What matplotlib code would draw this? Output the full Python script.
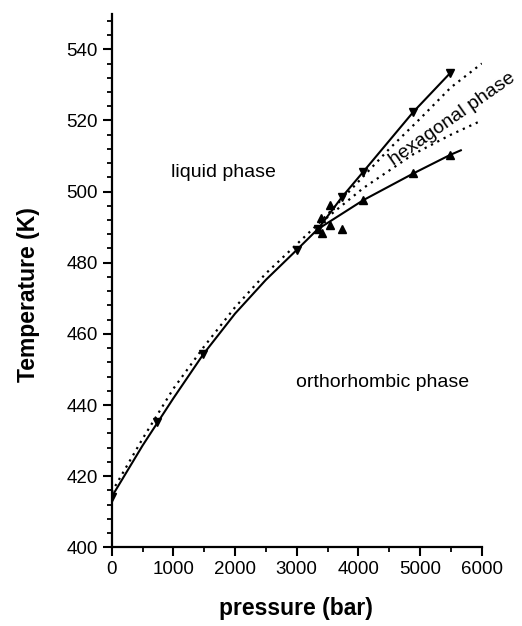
import matplotlib
matplotlib.use("Agg")
import matplotlib.pyplot as plt
from matplotlib.ticker import MultipleLocator

plt.rcParams['font.family'] = ['Liberation Sans', 'DejaVu Sans']

# melting line data (liquid boundary), down triangles
liq_P = [0, 730, 1486, 3000, 3350, 3730, 4080, 4890, 5486]
liq_T = [414.2, 435.3, 454.3, 483.5, 489.6, 498.6, 505.6, 522.5, 533.3]
# extra points on the upper branch (up triangles)
hexliq_P = [3400, 3540]
hexliq_T = [492.6, 496.2]
# orthorhombic-hexagonal transition, up triangles
oh_P = [3350, 3405, 3540, 3730, 4080, 4890, 5486]
oh_T = [489.4, 488.3, 490.6, 489.5, 497.6, 505.1, 510.3]
# solid fitted curve, liquid boundary
liqfit_P = [0, 500, 1000, 1486, 2000, 2500, 3000, 3350, 3730, 4080, 4890, 5486]
liqfit_T = [414.2, 428.6, 441.9, 454.3, 465.7, 475.2, 483.6, 489.6, 498.4, 505.6, 522.4, 533.3]
# solid fitted line, lower branch
ohfit_P = [3320, 4080, 4890, 5486, 5660]
ohfit_T = [489.2, 497.6, 505.1, 510.3, 511.6]
# dotted model curves
dot_main_P = [0, 500, 1000, 1500, 2000, 2500, 3000, 3400, 4000, 4500, 5000, 5500, 6000]
dot_main_T = [415.5, 430.5, 444.6, 456.5, 467.5, 477.0, 485.2, 491.8, 502.8, 512.0, 520.5, 529.3, 536.0]
dot_low_P = [3300, 4080, 4890, 5500, 6000]
dot_low_T = [490.0, 501.0, 510.5, 516.0, 520.0]

fig = plt.figure(figsize=(5.22, 6.26), dpi=100)
ax = fig.add_axes([0.214, 0.1257, 0.709, 0.8524])

ax.plot(dot_main_P, dot_main_T, color='black', lw=1.6, linestyle=(0, (1, 2.2)))
ax.plot(dot_low_P, dot_low_T, color='black', lw=1.6, linestyle=(0, (1, 2.2)))
ax.plot(liqfit_P, liqfit_T, color='black', lw=1.5)
ax.plot(ohfit_P, ohfit_T, color='black', lw=1.5)
ax.plot(liq_P, liq_T, 'v', color='black', ms=5.5, ls='none')
ax.plot(hexliq_P, hexliq_T, '^', color='black', ms=5.5, ls='none')
ax.plot(oh_P, oh_T, '^', color='black', ms=5.5, ls='none')

ax.set_xlim(0, 6000)
ax.set_ylim(400, 550)
ax.xaxis.set_major_locator(MultipleLocator(1000))
ax.xaxis.set_minor_locator(MultipleLocator(500))
ax.yaxis.set_major_locator(MultipleLocator(20))
ax.yaxis.set_minor_locator(MultipleLocator(4))
ax.set_yticks([400, 420, 440, 460, 480, 500, 520, 540])
ax.spines['top'].set_visible(False)
ax.spines['right'].set_visible(False)
for s in ['left', 'bottom']:
    ax.spines[s].set_linewidth(1.6)
ax.tick_params(which='major', direction='out', length=6.5, width=1.5, labelsize=13.5)
ax.tick_params(which='minor', direction='out', length=3.3, width=1.3)

ax.set_xlabel('pressure (bar)', fontsize=16.5, fontweight='bold', va='center')
ax.set_ylabel('Temperature (K)', fontsize=16.5, fontweight='bold', va='center')
ax.xaxis.set_label_coords(0.498, -0.114)
ax.yaxis.set_label_coords(-0.226, 0.473)

ax.text(1805, 505.5, 'liquid phase', fontsize=14, ha='center', va='center')
ax.text(4389, 446.2, 'orthorhombic phase', fontsize=14, ha='center', va='center')
ax.text(5518, 520.4, 'hexagonal phase', fontsize=14, ha='center', va='center',
        rotation=35, rotation_mode='anchor', clip_on=False)

fig.savefig('out.png', dpi=100)
